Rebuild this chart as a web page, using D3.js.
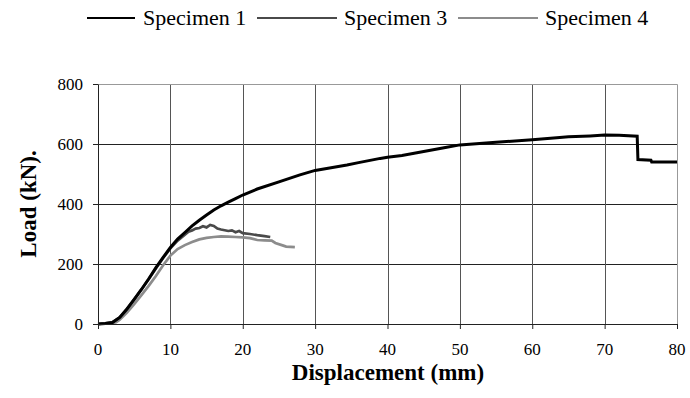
<!DOCTYPE html>
<html>
<head>
<meta charset="utf-8">
<script src="https://cdn.jsdelivr.net/npm/d3@7"></script>
<style>
  body { margin: 0; background: #fff; }
  svg text { font-family: "Liberation Serif", Tinos, "Times New Roman", "DejaVu Serif", "Noto Serif", serif; fill: #000; }
</style>
</head>
<body>
<div id="chart"></div>
<script>
// data (displacement mm, load kN)
const specimen1 = [
  [0, 0], [1, 2], [2, 5], [3, 22], [4, 50], [5, 82], [6, 115], [7, 150], [8, 188],
  [9, 222], [10, 255], [11, 283], [12, 305], [13, 327], [14, 346], [15, 363],
  [16, 380], [17, 394], [18, 406], [19, 418], [20, 430], [22, 450], [25, 474],
  [27.9, 497], [30, 512], [32, 520], [34.4, 530], [36, 538], [39, 552], [40, 556],
  [42, 562], [45, 575], [48, 588], [50, 597], [55, 606], [60, 614], [63.8, 622],
  [65, 624], [68, 627], [70, 630], [72, 629], [74.5, 626], [74.6, 548], [76.4, 546],
  [76.5, 540], [80, 540]
];
const specimen3 = [
  [0, 0], [1, 2], [2, 6], [3, 22], [4, 50], [5, 82], [6, 115], [7, 150], [8, 185],
  [9, 220], [10, 252], [11, 278], [12, 298], [12.5, 308], [13, 312], [13.5, 318],
  [14, 320], [14.5, 326], [15, 322], [15.5, 330], [16, 327], [16.5, 318], [17, 315],
  [18, 310], [18.5, 312], [19, 306], [19.5, 310], [20, 303], [21, 300], [22, 296],
  [23, 293], [23.8, 290]
];
const specimen4 = [
  [0, 0], [1, 1], [2, 3], [2.5, 6], [3, 14], [4, 38], [5, 66], [6, 96], [7, 127],
  [8, 160], [9, 196], [10, 228], [11, 250], [12, 263], [13, 273], [14, 282],
  [15, 287], [16, 290], [17, 292], [18, 291], [19, 290], [20, 289], [21, 286],
  [22, 280], [23, 279], [24, 278], [24.5, 270], [25.5, 262], [26, 258], [27.2, 256]
];
const seriesNames = ["Specimen 1", "Specimen 3", "Specimen 4"];
const seriesColors = ["#000000", "#4a4a4a", "#8c8c8c"];
const xTicks = [0, 10, 20, 30, 40, 50, 60, 70, 80];
const yTicks = [0, 200, 400, 600, 800];

//size
const width = 690, height = 398;
const margin = { top: 84, right: 13, bottom: 74, left: 98 };
const innerWidth = width - margin.left - margin.right;
const innerHeight = height - margin.top - margin.bottom;
const serif = '"Liberation Serif", Tinos, "Times New Roman", "DejaVu Serif", "Noto Serif", serif';

//scale
const xScale = d3.scaleLinear().domain([0, 80]).range([0, innerWidth]);
const yScale = d3.scaleLinear().domain([0, 800]).range([innerHeight, 0]);

//create element
const svg = d3.select("#chart").append("svg")
  .attr("width", width)
  .attr("height", height)
  .attr("font-family", serif);

const g = svg.append("g").attr("transform", `translate(${margin.left},${margin.top})`);

//grid
g.append("g").selectAll("line")
  .data(yTicks.filter((d) => d > 0 && d < 800))
  .join("line")
  .attr("x1", 0).attr("x2", innerWidth)
  .attr("y1", (d) => Math.round(yScale(d)) + 0.5)
  .attr("y2", (d) => Math.round(yScale(d)) + 0.5)
  .attr("stroke", "#222").attr("stroke-width", 1);

g.append("g").selectAll("line")
  .data(xTicks.filter((d) => d > 0 && d < 80))
  .join("line")
  .attr("x1", (d) => Math.round(xScale(d)) + 0.5)
  .attr("x2", (d) => Math.round(xScale(d)) + 0.5)
  .attr("y1", 0).attr("y2", innerHeight)
  .attr("stroke", "#555").attr("stroke-width", 1);

//border top/right
g.append("path")
  .attr("d", `M0,0.5H${innerWidth + 0.5}V${innerHeight}`)
  .attr("fill", "none").attr("stroke", "#999").attr("stroke-width", 1);

//lines
const line = d3.line().x((d) => xScale(d[0])).y((d) => yScale(d[1]));
[specimen4, specimen3, specimen1].forEach((s, i) => {
  const idx = 2 - i;
  g.append("path")
    .datum(s)
    .attr("d", line)
    .attr("fill", "none")
    .attr("stroke", seriesColors[idx])
    .attr("stroke-width", idx === 0 ? 3 : 2.7)
    .attr("stroke-linejoin", "miter");
});

//x-axis (ticks only, labels drawn below)
const xAxis = g.append("g")
  .attr("transform", `translate(0,${innerHeight})`)
  .call(d3.axisBottom(xScale).tickValues(xTicks).tickSize(5).tickSizeOuter(0));
xAxis.selectAll(".tick text").remove();
xAxis.select(".domain").attr("stroke", "#222");
xAxis.selectAll(".tick line").attr("stroke", "#222");

g.append("g").selectAll("text")
  .data(xTicks)
  .join("text")
  .attr("x", (d) => xScale(d))
  .attr("y", innerHeight + 31)
  .attr("text-anchor", "middle")
  .attr("font-size", 17)
  .text((d) => d);

//y-axis
const yAxis = g.append("g")
  .call(d3.axisLeft(yScale).tickValues(yTicks).tickSize(5).tickSizeOuter(0));
yAxis.selectAll(".tick text").remove();
yAxis.select(".domain").attr("stroke", "#222");
yAxis.selectAll(".tick line").attr("stroke", "#222");

g.append("g").selectAll("text")
  .data(yTicks)
  .join("text")
  .attr("x", -15)
  .attr("y", (d) => yScale(d) + 6)
  .attr("text-anchor", "end")
  .attr("font-size", 17)
  .text((d) => d);

//axis titles
svg.append("text")
  .attr("x", 388)
  .attr("y", 380)
  .attr("text-anchor", "middle")
  .attr("font-size", 23)
  .attr("font-weight", "bold")
  .text("Displacement (mm)");

svg.append("text")
  .attr("transform", `translate(36,${margin.top + innerHeight / 2}) rotate(-90)`)
  .attr("text-anchor", "middle")
  .attr("font-size", 23)
  .attr("font-weight", "bold")
  .text("Load (kN).");

//legend
const legendX = [87, 257, 458];
const legend = svg.append("g").selectAll("g")
  .data(seriesNames)
  .join("g")
  .attr("transform", (d, i) => `translate(${legendX[i]},18)`);
legend.append("line")
  .attr("x1", 0)
  .attr("x2", (d, i) => (i === 0 ? 48 : 80))
  .attr("stroke", (d, i) => seriesColors[i])
  .attr("stroke-width", 2);
legend.append("text")
  .attr("x", (d, i) => (i === 0 ? 56 : 87))
  .attr("y", 7)
  .attr("font-size", 22)
  .text((d) => d);
</script>
</body>
</html>
